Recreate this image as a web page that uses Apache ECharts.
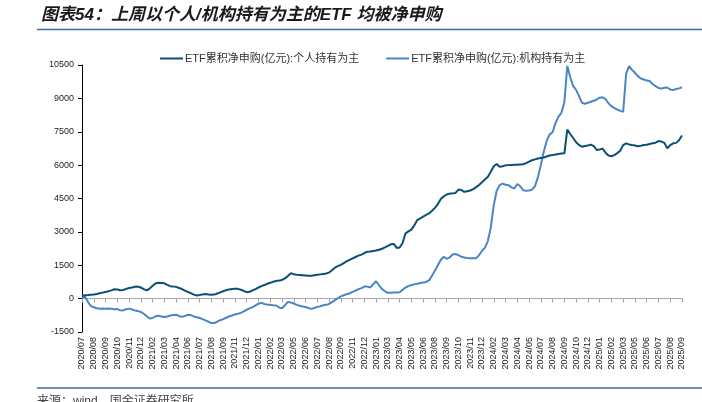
<!DOCTYPE html>
<html>
<head>
<meta charset="utf-8">
<script src="https://cdn.jsdelivr.net/npm/echarts@6/dist/echarts.min.js"></script>
<style>
html,body{margin:0;padding:0;background:#fff;}
#c{width:702px;height:402px;}
</style>
</head>
<body>
<div id="c"></div>
<script>
const titleText = '图表54：上周以个人/机构持有为主的ETF 均被净申购';
const sourceText = '来源：wind，国金证券研究所';
const seriesNames = ['ETF累积净申购(亿元):个人持有为主', 'ETF累积净申购(亿元):机构持有为主'];

const tickLabels = ['2020/07','2020/08','2020/09','2020/10','2020/11','2020/12','2021/02','2021/03','2021/04','2021/06',
  '2021/07','2021/08','2021/09','2021/11','2021/12','2022/01','2022/02','2022/03','2022/05','2022/06',
  '2022/07','2022/08','2022/09','2022/11','2022/12','2023/01','2023/03','2023/04','2023/05','2023/06',
  '2023/08','2023/09','2023/10','2023/11','2023/12','2024/02','2024/03','2024/04','2024/05','2024/07',
  '2024/08','2024/09','2024/10','2024/12','2025/01','2025/02','2025/03','2025/05','2025/06','2025/07',
  '2025/08','2025/09'];

// 4 samples per tick interval
const personal = [
  120,150,160,175, 190,210,240,270, 300,330,370,420, 410,380,390,440, 480,500,530,540,
  500,430,370,450, 580,680,710,700, 690,620,560,540, 530,480,430,360, 300,250,180,140,
  160,190,210,190, 170,180,230,280, 330,380,410,430, 440,440,400,350, 290,310,370,430,
  500,560,610,670, 710,760,790,810, 840,910,1020,1140, 1100,1070,1060,1050, 1040,1030,1030,1050,
  1070,1090,1110,1130, 1170,1280,1390,1460, 1520,1600,1680,1740, 1810,1870,1930,1980, 2050,2110,2120,2140,
  2160,2200,2240,2300, 2370,2440,2460,2280, 2300,2500,2935,3020, 3100,3300,3530,3610, 3690,3760,3830,3950,
  4080,4250,4480,4600, 4680,4720,4730,4750, 4900,4880,4800,4830, 4860,4920,5010,5110, 5230,5350,5480,5700,
  5950,6050,5930,5950, 5990,6000,6010,6020, 6020,6030,6040,6090, 6160,6220,6260,6300, 6320,6340,6390,6430,
  6450,6480,6500,6520, 6530,7600,7400,7220, 7030,6900,6830,6860, 6880,6920,6850,6680, 6700,6740,6560,6430,
  6400,6450,6540,6650, 6900,6980,6930,6900, 6880,6850,6870,6900, 6915,6950,6980,7010, 7080,7060,7000,6760,
  6900,6980,7000,7120, 7330
];
const institution = [
  0,100,-150,-330, -390,-430,-450,-440, -460,-440,-450,-480, -470,-520,-530,-480, -450,-490,-530,-560,
  -600,-680,-790,-890, -870,-790,-770,-800, -830,-800,-760,-740, -720,-780,-820,-780, -720,-740,-800,-840,
  -870,-920,-980,-1040, -1100,-1100,-1030,-970, -920,-860,-800,-760, -710,-680,-640,-570, -500,-440,-380,-300,
  -230,-190,-240,-270, -280,-300,-310,-400, -430,-300,-150,-170, -220,-280,-320,-350, -380,-420,-460,-420,
  -370,-340,-300,-280, -240,-160,-70,20, 100,150,200,240, 300,360,420,470, 540,540,500,650,
  780,600,430,330, 260,260,280,280, 290,400,500,560, 610,640,670,700, 720,750,820,1030,
  1250,1500,1750,1880, 1790,1850,1980,2010, 1950,1880,1850,1830, 1820,1810,1820,1950, 2150,2280,2600,3200,
  4200,4850,5100,5170, 5120,5100,5000,4950, 5150,5050,4870,4850, 4860,4900,5050,5450, 6000,6600,7100,7380,
  7480,7900,8180,8350, 8820,10460,9950,9550, 9380,9100,8800,8760, 8800,8850,8890,8950, 9030,9050,8970,8780,
  8650,8560,8500,8440, 8400,10100,10450,10280, 10150,10000,9890,9850, 9800,9780,9640,9550, 9470,9440,9480,9490,
  9400,9370,9420,9450, 9500
];

const STEPS = 4;
const categories = [];
tickLabels.forEach((lab, i) => {
  categories.push(lab);
  if (i < tickLabels.length - 1) {
    for (let k = 1; k < STEPS; k++) categories.push(lab + '#' + k);
  }
});

const font = '"Liberation Sans", Arial, "Noto Sans CJK SC", sans-serif';
const chart = echarts.init(document.getElementById('c'));
chart.setOption({
  animation: false,
  textStyle: { fontFamily: font },
  color: ['#0c4f74', '#4a86c6'],
  grid: { left: 82, right: 20, top: 65, bottom: 70, containLabel: false },
  legend: {
    left: 155, top: 48, itemGap: 27, itemWidth: 23, itemHeight: 2, icon: 'rect',
    textStyle: { fontSize: 11, color: '#333', fontFamily: font, padding: [0,0,0,-3] },
    data: seriesNames
  },
  xAxis: [
    {
      type: 'category', data: categories, boundaryGap: false,
      axisLine: { onZero: true, lineStyle: { color: '#a6a6a6', width: 1 } },
      axisTick: { show: true, interval: STEPS - 1, length: 4, lineStyle: { color: '#a6a6a6' } },
      axisLabel: { show: false }, splitLine: { show: false }
    },
    {
      type: 'category', data: categories, boundaryGap: false, position: 'bottom',
      axisLine: { show: false, onZero: false }, axisTick: { show: false },
      axisLabel: { interval: STEPS - 1, rotate: 90, fontSize: 9, color: '#222', margin: 5, fontFamily: font },
      splitLine: { show: false }
    }
  ],
  yAxis: {
    type: 'value', min: -1500, max: 10500, interval: 1500,
    axisLine: { show: true, lineStyle: { color: '#000', width: 1 } },
    axisTick: { show: true, length: 4, lineStyle: { color: '#000' } },
    axisLabel: { fontSize: 9, color: '#222', margin: 8, fontFamily: font, formatter: v => String(v) },
    splitLine: { show: false }
  },
  series: [
    { name: seriesNames[0], type: 'line', data: personal, xAxisIndex: 0, showSymbol: false, lineStyle: { width: 2 }, z: 3 },
    { name: seriesNames[1], type: 'line', data: institution, xAxisIndex: 0, showSymbol: false, lineStyle: { width: 2 }, z: 2 }
  ],
  graphic: [
    { type: 'text', left: 41, top: 7, style: { text: titleText, fill: '#1a1a1a', font: 'italic bold 17px ' + font } },
    { type: 'line', shape: { x1: 37, y1: 29.5, x2: 702, y2: 29.5 }, style: { stroke: '#3b6e9e', lineWidth: 1.5 } },
    { type: 'line', shape: { x1: 37, y1: 388, x2: 702, y2: 388 }, style: { stroke: '#3b6e9e', lineWidth: 1.5 } },
    { type: 'text', left: 37, top: 396, style: { text: sourceText, fill: '#444', font: '12px ' + font } }
  ]
});
</script>
</body>
</html>
